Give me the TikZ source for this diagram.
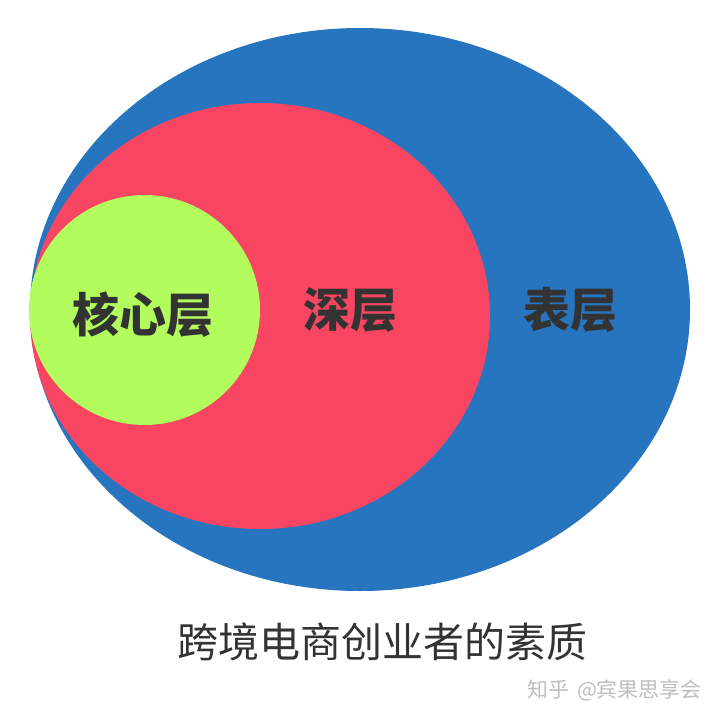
\documentclass[tikz,border=0pt]{standalone}
\usepackage{fontspec}
\usepackage{tikz}
\usetikzlibrary{shapes.geometric}
\newfontfamily\cjk{Noto Sans CJK SC}
\definecolor{outerblue}{RGB}{39,117,190}
\definecolor{deepred}{RGB}{247,69,98}
\definecolor{coregreen}{RGB}{178,252,94}
\definecolor{labelgray}{RGB}{51,51,51}
\definecolor{markgray}{RGB}{190,190,190}
\begin{document}
\begin{tikzpicture}[x=1pt,y=-1pt,
                    layer node/.style={ellipse,draw=none,inner sep=0pt,outer sep=0pt},
                    label node/.style={font=\cjk\bfseries\fontsize{47}{50}\selectfont,text=labelgray}]
  \useasboundingbox (0,0) rectangle (720,720);
  %layers%
  \node[layer node,fill=outerblue,minimum width=660pt,minimum height=563pt] (surface) at (360,309.5) {};
  \node[layer node,fill=deepred,minimum width=460pt,minimum height=426pt] (deep) at (260,316) {};
  \node[layer node,fill=coregreen,minimum width=231pt,minimum height=230pt] (core) at (144.5,310) {};

  \node[label node] (corelabel) at (143,315) {核心层};
  \node[label node] (deeplabel) at (350,310) {深层};
  \node[label node] (surfacelabel) at (570,310) {表层};

  \node[font=\cjk\fontsize{41}{44}\selectfont,text=labelgray] (title) at (382,642) {跨境电商创业者的素质};
  \node[font=\cjk\fontsize{21}{23}\selectfont,text=markgray,inner sep=0pt] (mark) at (614.5,690) {知乎\hspace{8pt}@宾果思享会};
\end{tikzpicture}
\end{document}
